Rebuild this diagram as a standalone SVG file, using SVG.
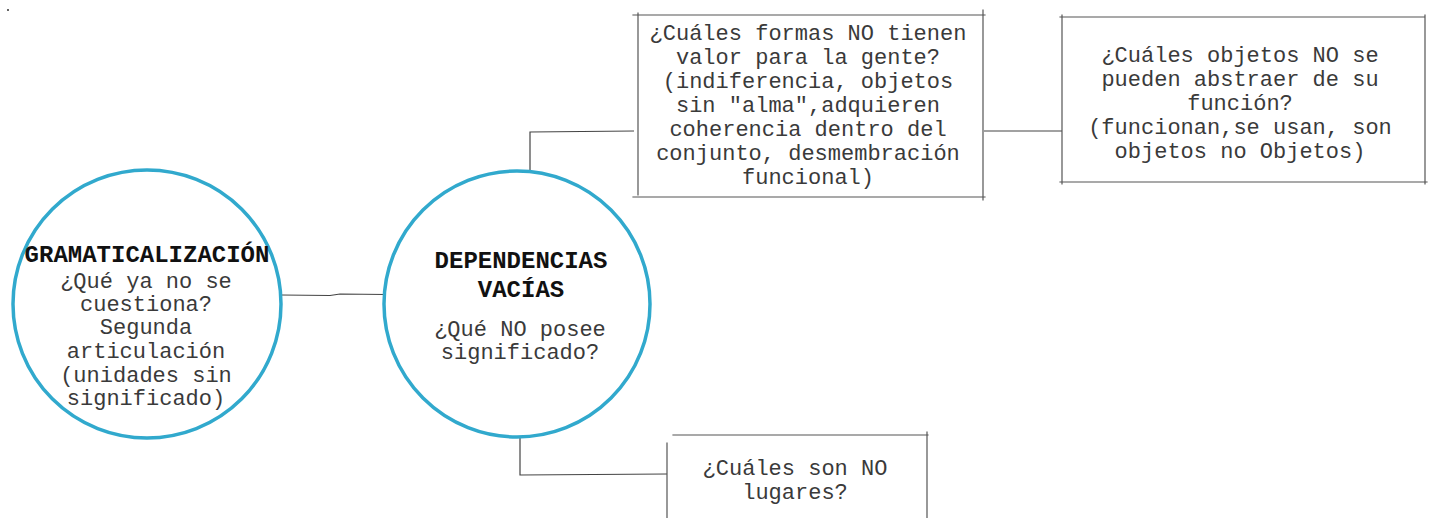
<svg xmlns="http://www.w3.org/2000/svg" width="1431" height="518" viewBox="0 0 1431 518">
<style>
.circ{fill:#fff;stroke:#31a9cd;stroke-width:3.5}
.box{fill:none;stroke:#555;stroke-width:1.2;stroke-linecap:square}
.con{fill:none;stroke:#444;stroke-width:1.2}
.t{font-family:"Liberation Mono","Courier New",monospace;font-size:22px;fill:#3a3a3a;text-anchor:middle}
.h{font-family:"Liberation Mono","Courier New",monospace;font-size:24px;font-weight:bold;fill:#111;text-anchor:middle}
</style>
<rect x="7" y="9" width="2" height="2" fill="#666"/>
<g id="connectors">
<path class="con" d="M281 295 L330 295.5 L340 294 L386 294.5"/>
<path class="con" d="M530 170 L530 132 L634 131"/>
<path class="con" d="M984 131 L1062 131"/>
<path class="con" d="M520 438 L520 475 L667 474"/>
</g>
<g id="n1">
<circle class="circ" cx="147" cy="304" r="134"/>
<text class="h" x="147" y="262">GRAMATICALIZACIÓN</text>
<text class="t" x="146"><tspan x="146" y="288">¿Qué ya no se</tspan><tspan x="146" y="311">cuestiona?</tspan><tspan x="146" y="334">Segunda</tspan><tspan x="146" y="358">articulación</tspan><tspan x="146" y="382">(unidades sin</tspan><tspan x="146" y="405">significado)</tspan></text>
</g>
<g id="n2">
<circle class="circ" cx="517" cy="304" r="133"/>
<text class="h" x="521" y="268">DEPENDENCIAS</text>
<text class="h" x="521" y="297">VACÍAS</text>
<text class="t" x="520"><tspan x="520" y="336">¿Qué NO posee</tspan><tspan x="520" y="359">significado?</tspan></text>
</g>
<g id="n3">
<path class="box" d="M633 15 L985 15 M638 13 L638 195 M983 10 L983 200 M633 197 L985 197"/>
<text class="t"><tspan x="808" y="40">¿Cuáles formas NO tienen</tspan><tspan x="808" y="64">valor para la gente?</tspan><tspan x="808" y="88">(indiferencia, objetos</tspan><tspan x="808" y="112">sin "alma",adquieren</tspan><tspan x="808" y="136">coherencia dentro del</tspan><tspan x="808" y="160">conjunto, desmembración</tspan><tspan x="808" y="184">funcional)</tspan></text>
</g>
<g id="n4">
<path class="box" d="M1060 17 L1425 17 M1062 15 L1062 184 M1425 15 L1425 184 M1060 182 L1427 182"/>
<text class="t"><tspan x="1240" y="62">¿Cuáles objetos NO se</tspan><tspan x="1240" y="86">pueden abstraer de su</tspan><tspan x="1240" y="110">función?</tspan><tspan x="1240" y="134">(funcionan,se usan, son</tspan><tspan x="1240" y="158">objetos no Objetos)</tspan></text>
</g>
<g id="n5">
<path class="box" d="M673 435 L928 435 M667 443 L667 518 M927 432 L927 518"/>
<text class="t"><tspan x="795" y="475">¿Cuáles son NO</tspan><tspan x="795" y="499">lugares?</tspan></text>
</g>
</svg>
